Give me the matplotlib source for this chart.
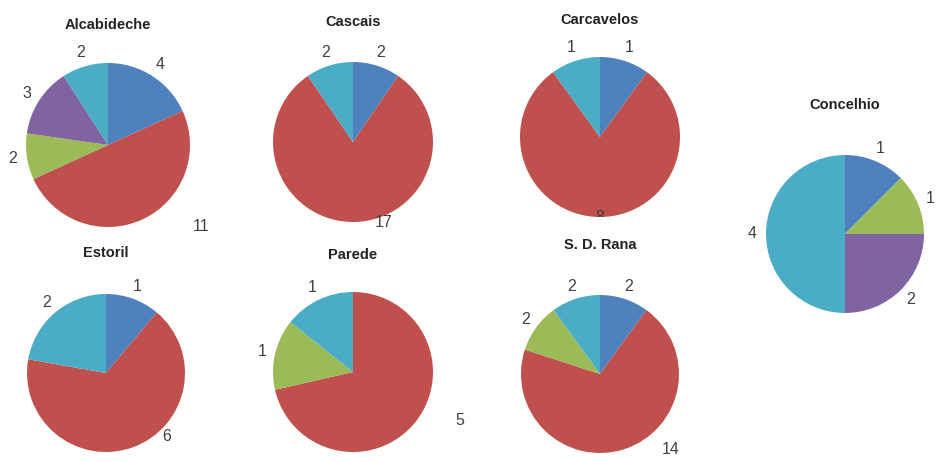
import numpy as np
import matplotlib.pyplot as plt

plt.rcParams['font.family'] = ['Liberation Sans', 'DejaVu Sans']

# DATA (order: blue, red, green, purple, cyan)
colors = ['#4F81BD', '#C0504D', '#9BBB59', '#8064A2', '#4BACC6']
titles = ['Alcabideche', 'Cascais', 'Carcavelos', 'Estoril', 'Parede', 'S. D. Rana', 'Concelhio']
alcabideche = [4, 11, 2, 3, 2]
cascais = [2, 17, 0, 0, 2]
carcavelos = [1, 8, 0, 0, 1]
estoril = [1, 6, 0, 0, 2]
parede = [0, 5, 1, 0, 1]
sd_rana = [2, 14, 2, 0, 2]
concelhio = [1, 0, 1, 2, 4]
all_values = [alcabideche, cascais, carcavelos, estoril, parede, sd_rana, concelhio]

# LAYOUT (pixels): pie centre x, y, radius, title y
W, H = 937, 462
layout = [
    (108, 145, 82, 25),
    (353, 142, 80, 22),
    (600, 137, 80, 20),
    (106, 373, 79, 253),
    (353, 372, 80, 255),
    (600, 374, 79, 245),
    (845, 234, 79, 105),
]
# Excel moved the big red labels to stay inside the chart area
red_label_pos = [(1.13, -0.99), (0.38, -1.0), (0.0, -1.0), (0.77, -0.81),
                 (1.33, -0.61), (0.89, -0.96), None]

fig = plt.figure(figsize=(W / 100, H / 100), dpi=100)

for i in range(len(titles)):
    cx, cy, r, ty = layout[i]
    vals = all_values[i]
    keep = [k for k in range(5) if vals[k] > 0]
    v = [vals[k] for k in keep]
    c = [colors[k] for k in keep]

    ax = fig.add_axes([(cx - r) / W, 1 - (cy + r) / H, 2 * r / W, 2 * r / H])
    wedges, texts = ax.pie(v, colors=c, labels=[str(x) for x in v],
                           startangle=90, counterclock=False, radius=1,
                           labeldistance=1.17,
                           textprops={'fontsize': 11.5, 'color': '#404040'})
    ax.set_xlim(-1, 1)
    ax.set_ylim(-1, 1)
    ax.set_aspect('equal')
    ax.axis('off')
    for t in texts:
        t.set_ha('center')
        t.set_va('center')
    if 1 in keep and red_label_pos[i] is not None:
        t = texts[keep.index(1)]
        t.set_position(red_label_pos[i])
        if titles[i] == 'Carcavelos':
            t.set_clip_on(True)

    fig.text(cx / W, 1 - ty / H, titles[i], ha='center', va='center',
             fontsize=10.5, fontweight='bold', color='#222222')

fig.savefig('out.png', dpi=100)
